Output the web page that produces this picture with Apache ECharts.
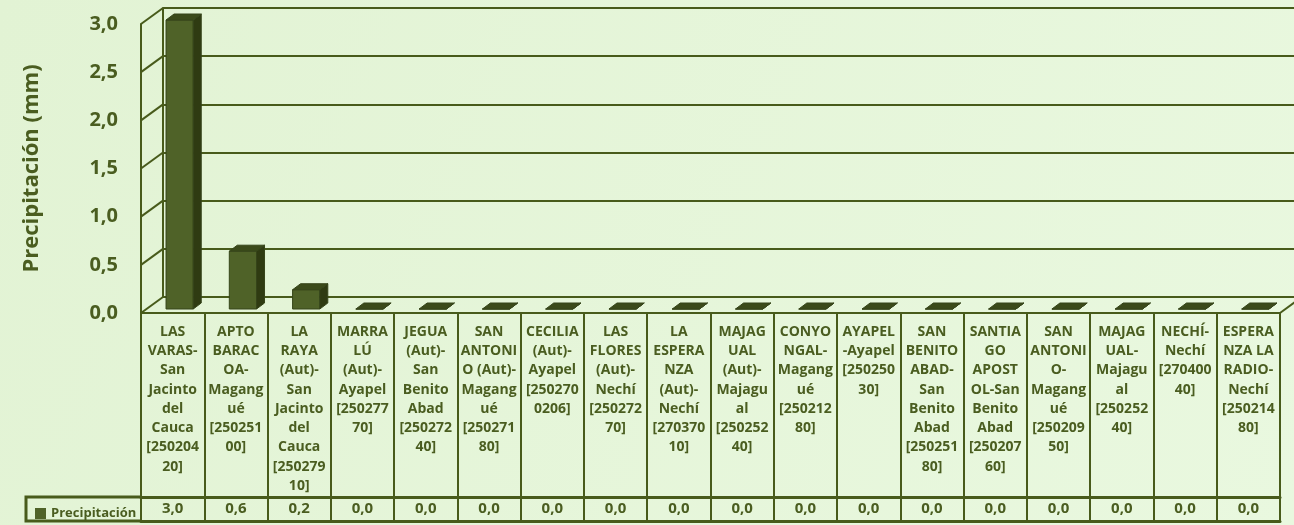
<!DOCTYPE html>
<html>
<head>
<meta charset="utf-8">
<script src="https://cdn.jsdelivr.net/npm/echarts@6/dist/echarts.min.js"></script>
<style>
  html, body { margin: 0; padding: 0; }
  #chart { width: 1294px; height: 525px; }
</style>
</head>
<body>
<div id="chart"></div>
<script>
// estaciones (saltos de línea como en la tabla del original)
const categories = [
  'LAS\nVARAS-\nSan\nJacinto\ndel\nCauca\n[250204\n20]',
  'APTO\nBARAC\nOA-\nMagang\nué\n[250251\n00]',
  'LA\nRAYA\n(Aut)-\nSan\nJacinto\ndel\nCauca\n[250279\n10]',
  'MARRA\nLÚ\n(Aut)-\nAyapel\n[250277\n70]',
  'JEGUA\n(Aut)-\nSan\nBenito\nAbad\n[250272\n40]',
  'SAN\nANTONI\nO (Aut)-\nMagang\nué\n[250271\n80]',
  'CECILIA\n(Aut)-\nAyapel\n[250270\n0206]',
  'LAS\nFLORES\n(Aut)-\nNechí\n[250272\n70]',
  'LA\nESPERA\nNZA\n(Aut)-\nNechí\n[270370\n10]',
  'MAJAG\nUAL\n(Aut)-\nMajagu\nal\n[250252\n40]',
  'CONYO\nNGAL-\nMagang\nué\n[250212\n80]',
  'AYAPEL\n-Ayapel\n[250250\n30]',
  'SAN\nBENITO\nABAD-\nSan\nBenito\nAbad\n[250251\n80]',
  'SANTIA\nGO\nAPOST\nOL-San\nBenito\nAbad\n[250207\n60]',
  'SAN\nANTONI\nO-\nMagang\nué\n[250209\n50]',
  'MAJAG\nUAL-\nMajagu\nal\n[250252\n40]',
  'NECHÍ-\nNechí\n[270400\n40]',
  'ESPERA\nNZA LA\nRADIO-\nNechí\n[250214\n80]'
];
const precipitacion = [3.0, 0.6, 0.2, 0, 0, 0, 0, 0, 0, 0, 0, 0, 0, 0, 0, 0, 0, 0];
const yTicks = [0, 0.5, 1, 1.5, 2, 2.5, 3];
const seriesName = 'Precipitación';
const yName = 'Precipitación (mm)';

const ink = '#4A5D20';
const lineCol = '#485B1B';
const fontFam = '"Open Sans", Lato, sans-serif';
const depthX = 22, depthY = -16;   // profundidad de la caja 3D

const fmt = v => v.toFixed(1).replace('.', ',');

const myChart = echarts.init(document.getElementById('chart'));

function renderBar(params, api) {
  const i = api.value(0), v = api.value(1);
  const b = api.coord([i, 0]);
  const t = api.coord([i, v]);
  const half = api.size([1, 0])[0] * 0.215;
  const cx = b[0] + 7;
  const x1 = cx - half, x2 = cx + half;
  const yb = b[1] - 4, yt = t[1] - 4;
  const dx = 8, dy = -6;
  const stroke = { stroke: '#36451A', lineWidth: 1 };
  return {
    type: 'group',
    children: [
      { type: 'polygon', shape: { points: [[x1, yt], [x2, yt], [x2, yb], [x1, yb]] },
        style: Object.assign({ fill: '#4F6228' }, stroke) },
      { type: 'polygon', shape: { points: [[x2, yt], [x2 + dx, yt + dy], [x2 + dx, yb + dy], [x2, yb]] },
        style: Object.assign({ fill: '#2F3B12' }, stroke) },
      { type: 'polygon', shape: { points: [[x1, yt], [x2, yt], [x2 + dx, yt + dy], [x1 + dx, yt + dy]] },
        style: Object.assign({ fill: '#3B4A1A' }, stroke) }
    ]
  };
}

function renderWall(params, api) {
  const v = api.value(0);
  const cs = params.coordSys;
  const p = api.coord([0, v]);
  const ls = { stroke: lineCol, lineWidth: 2 };
  const kids = [{ type: 'line', shape: { x1: cs.x, y1: p[1], x2: cs.x + depthX, y2: p[1] + depthY }, style: ls }];
  if (v === 0) {
    kids.push({ type: 'line', shape: { x1: cs.x + cs.width, y1: p[1], x2: cs.x + cs.width + depthX, y2: p[1] + depthY }, style: ls });
  }
  return { type: 'group', children: kids };
}

const option = {
  backgroundColor: {
    type: 'linear', x: 0, y: 0, x2: 1, y2: 1,
    colorStops: [{ offset: 0, color: '#E2F3D4' }, { offset: 1, color: '#E9F8DF' }]
  },
  textStyle: { fontFamily: fontFam },
  legend: {
    data: [seriesName],
    left: 30, top: 502,
    icon: 'rect', itemWidth: 11, itemHeight: 11, itemGap: 3,
    textStyle: { color: ink, fontWeight: 'bold', fontSize: 13, fontFamily: fontFam }
  },
  grid: [
    { left: 141, right: 14, top: 24, bottom: 212 },
    { left: 163, right: 0, top: 8, bottom: 228 }
  ],
  xAxis: [
    {
      type: 'category', gridIndex: 0, data: categories,
      axisLine: { lineStyle: { color: lineCol, width: 2 } },
      axisTick: { show: true, interval: 0, inside: false, length: 208, lineStyle: { color: lineCol, width: 2 } },
      axisLabel: {
        interval: 0, margin: 9, verticalAlign: 'top', align: 'center',
        color: ink, fontWeight: 'bold', fontSize: 14, lineHeight: 19.3, fontFamily: fontFam
      }
    },
    {
      type: 'category', gridIndex: 0, position: 'bottom', offset: 184,
      data: precipitacion.map(fmt),
      axisLine: { lineStyle: { color: lineCol, width: 3 } },
      axisTick: { show: false },
      axisLabel: {
        interval: 0, margin: 3, verticalAlign: 'top',
        color: ink, fontWeight: 'bold', fontSize: 15, lineHeight: 18, fontFamily: fontFam
      }
    },
    {
      type: 'category', gridIndex: 0, position: 'bottom', offset: 208, data: categories,
      axisLine: { lineStyle: { color: lineCol, width: 3 } },
      axisTick: { show: false }, axisLabel: { show: false }
    },
    {
      type: 'category', gridIndex: 1, data: categories, show: false
    }
  ],
  yAxis: [
    {
      type: 'value', gridIndex: 0, min: 0, max: 3, interval: 0.5,
      name: yName, nameLocation: 'middle', nameGap: 98, nameRotate: 90,
      nameTextStyle: { color: ink, fontWeight: 'bold', fontSize: 22, fontFamily: fontFam },
      axisLine: { show: true, lineStyle: { color: lineCol, width: 2 } },
      axisTick: { show: false },
      splitLine: { show: false },
      axisLabel: { margin: 23, formatter: fmt, color: ink, fontWeight: 'bold', fontSize: 20, fontFamily: fontFam }
    },
    {
      type: 'value', gridIndex: 1, min: 0, max: 3, interval: 0.5,
      axisLine: { show: true, lineStyle: { color: lineCol, width: 2 } },
      axisTick: { show: false },
      axisLabel: { show: false },
      splitLine: { show: true, lineStyle: { color: lineCol, width: 2 } }
    }
  ],
  series: [
    {
      type: 'custom', name: 'wall', xAxisIndex: 0, yAxisIndex: 0,
      data: yTicks.map(v => [v]), encode: { y: 0 },
      renderItem: renderWall, clip: false, silent: true, z: 1
    },
    {
      type: 'custom', name: seriesName, xAxisIndex: 0, yAxisIndex: 0,
      data: precipitacion.map((v, i) => [i, v]),
      itemStyle: { color: '#4F6228' },
      renderItem: renderBar, clip: false, z: 3
    }
  ],
  graphic: [
    {
      type: 'polyline', silent: true,
      shape: { points: [[141, 497], [26, 497], [26, 521], [141, 521]] },
      style: { stroke: lineCol, lineWidth: 3, fill: null }
    }
  ]
};

myChart.setOption(option);
</script>
</body>
</html>
